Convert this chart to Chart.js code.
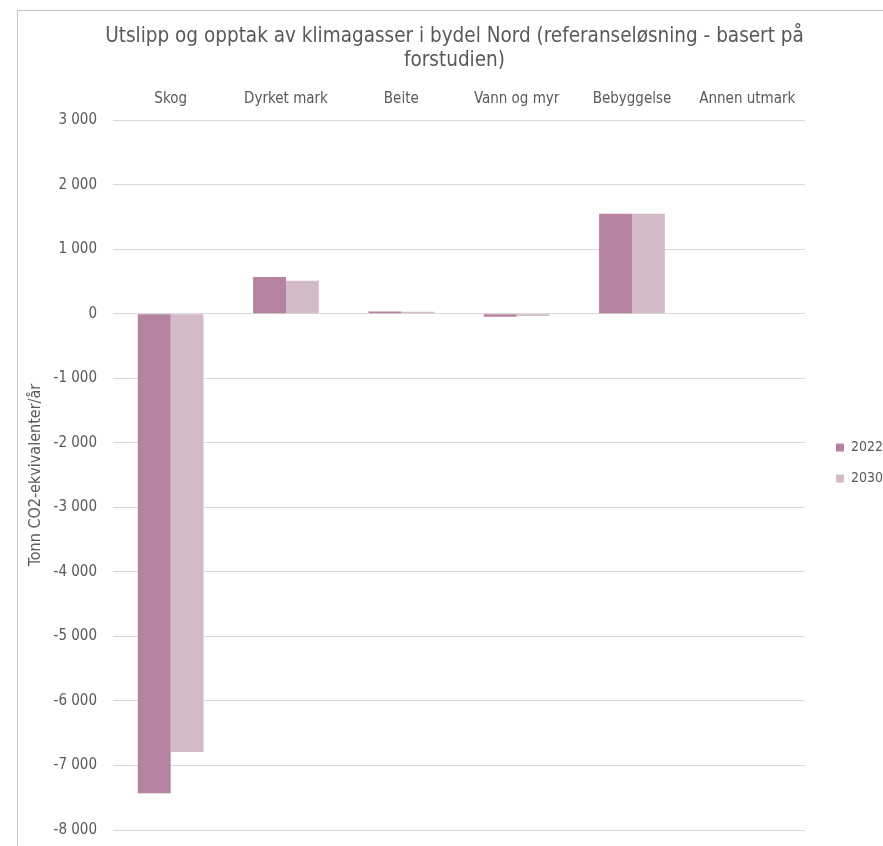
<html>
<head>
    <title>Klimagasser bydel Nord</title>
    <script src="https://cdn.jsdelivr.net/npm/chart.js"></script>
    <style>
        body { margin: 0; background: white; overflow: hidden; }
        .frame {
            position: absolute;
            left: 17px;
            top: 10px;
            width: 900px;
            height: 900px;
            border: 1px solid #c4c4c4;
        }
    </style>
</head>
<body>
    <div class="frame">
        <canvas id="klima_chart" width="865" height="844"></canvas>
    </div>

    <script>
        const categories = ["Skog", "Dyrket mark", "Beite", "Vann og myr", "Bebyggelse", "Annen utmark"];
        const values_2022 = [-7430, 570, 35, -45, 1550, 0];
        const values_2030 = [-6790, 510, 30, -35, 1550, 0];
        const series_names = ["2022", "2030"];
        const y_min = -8000;
        const y_max = 3000;
        const y_step = 1000;

        const font_family = "'DejaVu Sans Condensed', 'Roboto', sans-serif";
        const grey = "#595959";

        function thousands(value) {
            const sign = value < 0 ? "-" : "";
            const digits = Math.abs(value).toString().replace(/\B(?=(\d{3})+(?!\d))/g, " ");
            return sign + digits;
        }

        // widen the legend box a little and nudge its items, like the Excel layout
        const legend_extra = 4;
        const legend_shift_x = 14;
        const legend_shift_y = 23;
        const legendNudge = {
            id: "legendNudge",
            afterInit(chart) {
                const legend = chart.legend;
                const fit = legend.fit.bind(legend);
                const draw = legend.draw.bind(legend);
                legend.fit = function () {
                    fit();
                    this.width += legend_extra;
                };
                legend.draw = function () {
                    this.ctx.save();
                    this.ctx.translate(legend_shift_x, legend_shift_y);
                    draw();
                    this.ctx.restore();
                };
            }
        };

        const ctx = document.getElementById("klima_chart").getContext("2d");

        new Chart(ctx, {
            type: "bar",
            data: {
                labels: categories,
                datasets: [
                    {
                        label: series_names[0],
                        data: values_2022,
                        backgroundColor: "#b5839f",
                        barPercentage: 1,
                        categoryPercentage: 0.57
                    },
                    {
                        label: series_names[1],
                        data: values_2030,
                        backgroundColor: "#d3bac8",
                        barPercentage: 1,
                        categoryPercentage: 0.57
                    }
                ]
            },
            plugins: [legendNudge],
            options: {
                responsive: false,
                animation: false,
                layout: { padding: { left: 8, right: 0, top: 14, bottom: 0 } },
                plugins: {
                    title: {
                        display: true,
                        text: ["Utslipp og opptak av klimagasser i bydel Nord (referanseløsning - basert på", "forstudien)"],
                        color: grey,
                        font: { family: font_family, size: 20.5, weight: "normal", lineHeight: 1.15 },
                        padding: { top: 0, bottom: 14 }
                    },
                    legend: {
                        position: "right",
                        labels: {
                            boxWidth: 8,
                            boxHeight: 8,
                            padding: 17,
                            color: grey,
                            font: { family: font_family, size: 14 }
                        }
                    },
                    tooltip: { enabled: false }
                },
                scales: {
                    x: {
                        position: "top",
                        grid: { display: false },
                        border: { display: false },
                        ticks: {
                            color: grey,
                            padding: 4,
                            font: { family: font_family, size: 15 }
                        }
                    },
                    y: {
                        min: y_min,
                        max: y_max,
                        afterFit: scale => { scale.width = 87; },
                        grid: { color: "#d9d9d9", drawTicks: false },
                        border: { display: false },
                        ticks: {
                            stepSize: y_step,
                            padding: 16,
                            color: grey,
                            font: { family: font_family, size: 15 },
                            callback: value => thousands(value)
                        },
                        title: {
                            display: true,
                            text: "Tonn CO2-ekvivalenter/år",
                            color: grey,
                            font: { family: font_family, size: 16 },
                            padding: { top: 0, bottom: 0 }
                        }
                    }
                }
            }
        });
    </script>
</body>
</html>
